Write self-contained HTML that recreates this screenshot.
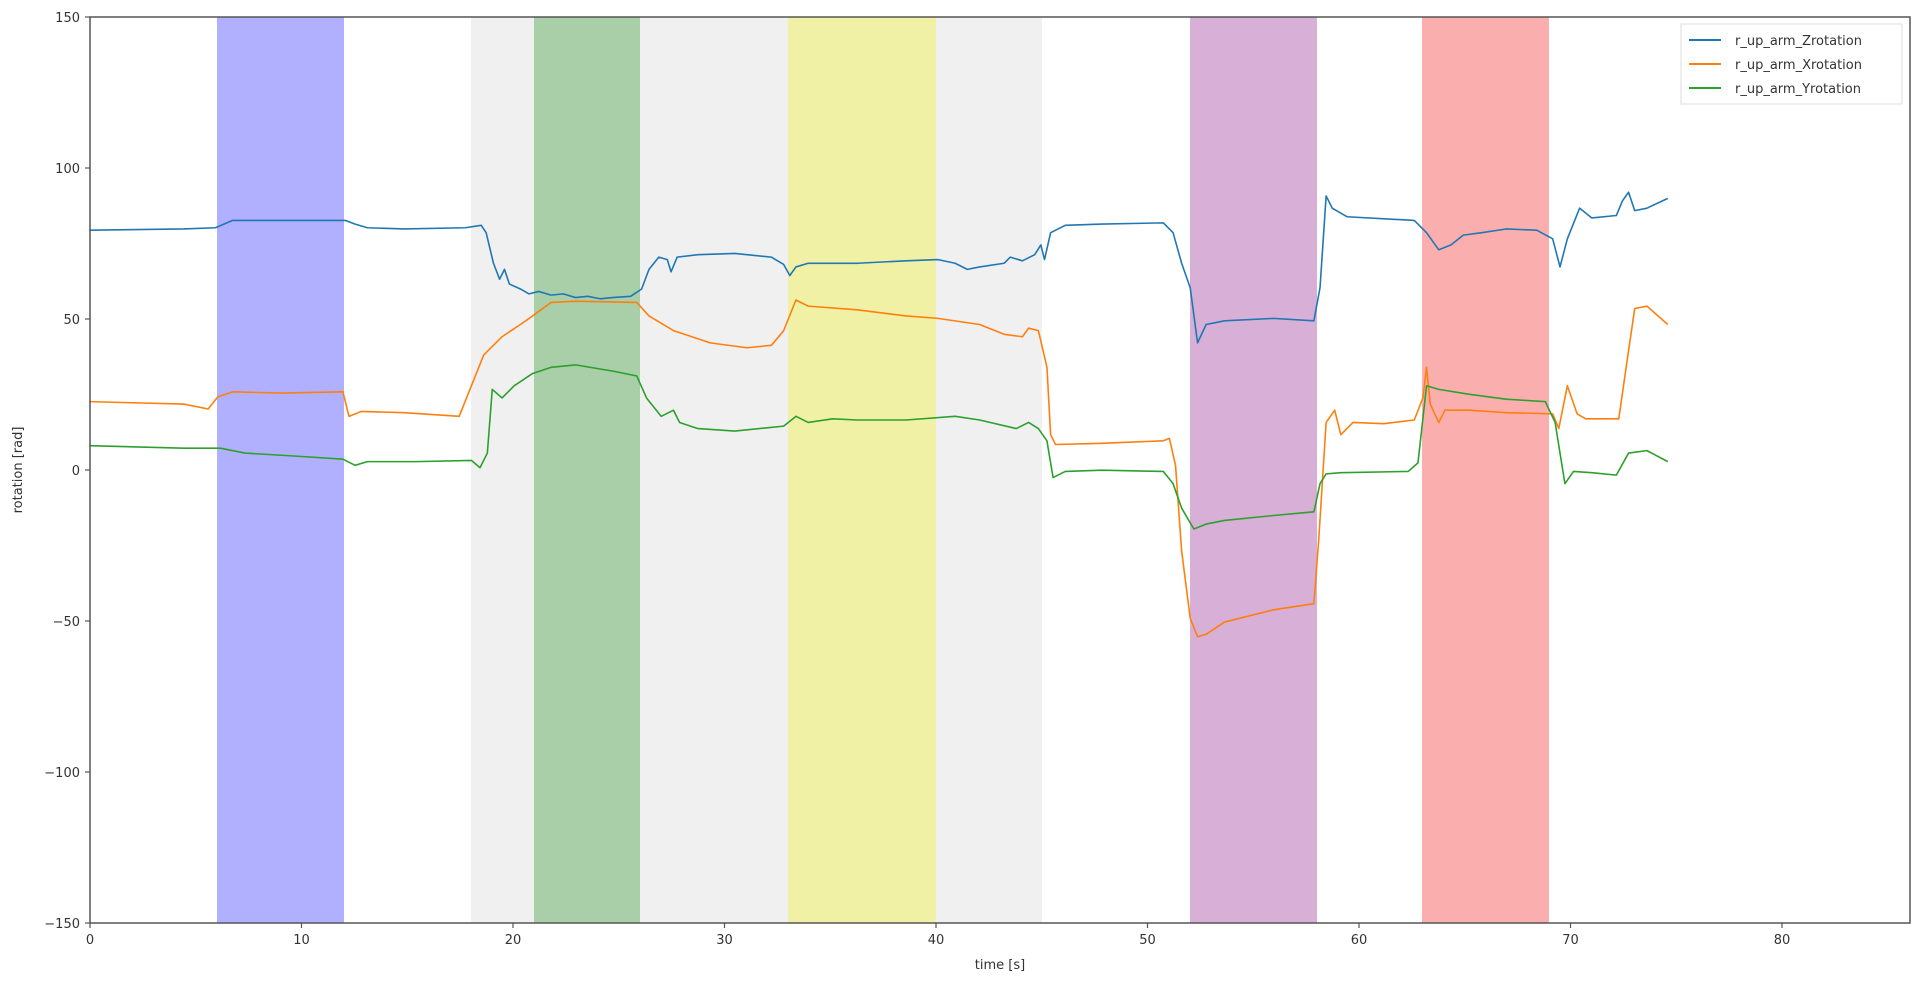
<!DOCTYPE html>
<html><head><style>body{margin:0;background:#fff}svg{display:block}text{font-family:"DejaVu Sans","Liberation Sans",sans-serif;fill:#333}</style></head>
<body>
<svg width="1920" height="984" viewBox="0 0 1920 984" xmlns="http://www.w3.org/2000/svg">
<rect width="1920" height="984" fill="#fff"/>
<!-- bands: x px = 90 + t*21.15 -->
<rect x="217" y="17" width="127" height="906" fill="#b0b0ff"/>
<rect x="471" y="17" width="63" height="906" fill="#f0f0f0"/>
<rect x="534" y="17" width="106" height="906" fill="#a8cfa8"/>
<rect x="640" y="17" width="148" height="906" fill="#f0f0f0"/>
<rect x="788" y="17" width="148" height="906" fill="#f1f1a5"/>
<rect x="936" y="17" width="106" height="906" fill="#f0f0f0"/>
<rect x="1190" y="17" width="127" height="906" fill="#d7afd7"/>
<rect x="1422" y="17" width="127" height="906" fill="#fbaeae"/>
<g transform="scale(1.2245)" fill="none" stroke-width="1.3" stroke-linejoin="round">
<polyline stroke="#1f77b4" points="73,188 150,187 176,186 190,180 230,180 282,180 290,183 300,186 330,187 380,186 393,184 397,190 403,215 408,228 412,220 416,232 425,236 432,240 440,238 450,241 460,240 470,243 480,242 490,244 500,243 515,242 524,236 530,220 538,210 545,212 548,222 553,210 570,208 600,207 630,210 640,216 645,225 650,218 660,215 700,215 740,213 766,212 780,215 790,220 800,218 820,215 825,210 835,213 845,208 850,200 853,212 858,190 870,184 900,183 950,182 958,190 965,215 972,235 978,280 985,265 1000,262 1040,260 1073,262 1078,235 1083,160 1088,170 1100,177 1155,180 1165,190 1175,204 1185,200 1195,192 1210,190 1230,187 1255,188 1268,195 1274,218 1280,195 1290,170 1300,178 1320,176 1325,164 1330,157 1335,172 1345,170 1362,162"/>
<polyline stroke="#ff7f0e" points="73,328 150,330 170,334 178,324 190,320 230,321 280,320 285,340 295,336 330,337 375,340 385,315 395,290 410,275 425,265 435,258 450,247 470,246 520,247 530,258 550,270 580,280 610,284 630,282 640,270 650,245 660,250 700,253 740,258 766,260 800,265 820,273 835,275 840,268 848,270 855,300 858,355 862,363 900,362 950,360 955,358 960,380 965,450 972,505 978,520 985,518 1000,508 1040,498 1073,493 1077,440 1083,345 1090,335 1095,355 1105,345 1130,346 1155,343 1162,325 1165,300 1168,330 1175,345 1180,335 1200,335 1230,337 1268,338 1273,350 1280,315 1288,338 1295,342 1322,342 1328,300 1335,252 1345,250 1362,265"/>
<polyline stroke="#2ca02c" points="73,364 150,366 180,366 200,370 250,373 280,375 290,380 300,377 340,377 385,376 392,382 398,370 402,318 410,325 420,315 435,305 450,300 470,298 500,303 520,307 528,325 540,340 550,335 555,345 570,350 600,352 640,348 650,340 660,345 680,342 700,343 740,343 780,340 800,343 830,350 840,345 848,350 855,360 860,390 870,385 900,384 950,385 958,395 965,415 975,432 985,428 1000,425 1040,421 1073,418 1078,395 1083,387 1095,386 1150,385 1158,378 1165,315 1175,318 1200,322 1230,326 1262,328 1270,345 1278,395 1285,385 1300,386 1320,388 1330,370 1345,368 1362,377"/>
</g>
<rect x="90" y="17" width="1820" height="906" fill="none" stroke="#555" stroke-width="1.5"/>
<g stroke="#555" stroke-width="1.2">
<line x1="85" y1="17" x2="90" y2="17"/><line x1="85" y1="168" x2="90" y2="168"/><line x1="85" y1="319" x2="90" y2="319"/><line x1="85" y1="470" x2="90" y2="470"/><line x1="85" y1="621" x2="90" y2="621"/><line x1="85" y1="772" x2="90" y2="772"/><line x1="85" y1="923" x2="90" y2="923"/>
<line x1="90" y1="923" x2="90" y2="928"/><line x1="301.5" y1="923" x2="301.5" y2="928"/><line x1="513" y1="923" x2="513" y2="928"/><line x1="724.5" y1="923" x2="724.5" y2="928"/><line x1="936" y1="923" x2="936" y2="928"/><line x1="1147.5" y1="923" x2="1147.5" y2="928"/><line x1="1359" y1="923" x2="1359" y2="928"/><line x1="1570.5" y1="923" x2="1570.5" y2="928"/><line x1="1782" y1="923" x2="1782" y2="928"/>
</g>
<g font-size="13" text-anchor="end">
<text x="80" y="22">150</text><text x="80" y="173">100</text><text x="80" y="324">50</text><text x="80" y="475">0</text><text x="80" y="626">−50</text><text x="80" y="777">−100</text><text x="80" y="928">−150</text>
</g>
<g font-size="13" text-anchor="middle">
<text x="90" y="944">0</text><text x="301.5" y="944">10</text><text x="513" y="944">20</text><text x="724.5" y="944">30</text><text x="936" y="944">40</text><text x="1147.5" y="944">50</text><text x="1359" y="944">60</text><text x="1570.5" y="944">70</text><text x="1782" y="944">80</text>
<text x="1000" y="969">time [s]</text>
<text transform="translate(22,470) rotate(-90)">rotation [rad]</text>
</g>
<rect x="1681" y="24" width="221" height="80" fill="#fff" fill-opacity="0.85" stroke="#ddd"/>
<g stroke-width="2"><line x1="1689" y1="40" x2="1721" y2="40" stroke="#1f77b4"/><line x1="1689" y1="64" x2="1721" y2="64" stroke="#ff7f0e"/><line x1="1689" y1="88" x2="1721" y2="88" stroke="#2ca02c"/></g>
<g font-size="13"><text x="1735" y="45">r_up_arm_Zrotation</text><text x="1735" y="69">r_up_arm_Xrotation</text><text x="1735" y="93">r_up_arm_Yrotation</text></g>
</svg>
</body></html>
